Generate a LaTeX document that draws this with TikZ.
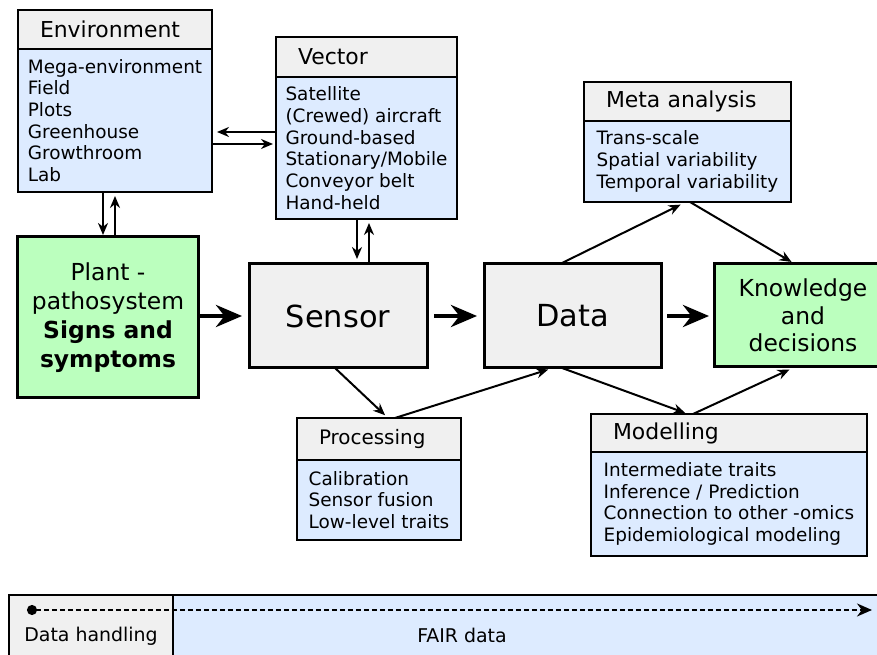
\documentclass[tikz,border=0pt]{standalone}
\usepackage{fontspec}
\setmainfont{DejaVu Sans}
\usetikzlibrary{arrows.meta, positioning}

\definecolor{headgray}{RGB}{240,240,240}
\definecolor{listblue}{RGB}{221,235,255}
\definecolor{plantgreen}{RGB}{187,255,190}

\begin{document}
\begin{tikzpicture}[
  x=1bp, y=1bp,
  headbox/.style={draw, fill=headgray, line width=2bp, outer sep=0bp, anchor=north west, inner xsep=22bp, inner ysep=0bp, align=left, font=\fontsize{22}{26}\selectfont},
  listbox/.style={draw, fill=listblue, line width=2bp, outer sep=0bp, anchor=north west, inner xsep=0bp, inner ysep=0bp, align=left, font=\fontsize{18.5}{21.8}\selectfont},
  mainbox/.style={draw, fill=headgray, line width=3bp, outer sep=0bp, minimum width=178bp, minimum height=104bp, font=\fontsize{30.5}{36}\selectfont},
  endbox/.style={draw, fill=plantgreen, line width=3bp, outer sep=0bp, align=center, font=\fontsize{23.5}{29}\selectfont},
  barbox/.style={draw, line width=2bp, outer sep=0bp, anchor=north west, minimum height=82bp, font=\fontsize{19}{22}\selectfont},
  arrow/.style={-{Stealth[length=12bp, width=10bp]}, line width=2bp},
  bigarrow/.style={-{Stealth[length=26bp, width=22bp]}, line width=4.5bp},
]
\useasboundingbox (0,0) rectangle (877,655);
\clip (0,0) rectangle (877,655);

% list boxes
\node[headbox, text width=150bp, minimum height=39bp] (env) at (18,645) {Environment};
\node[listbox, minimum width=194bp, minimum height=143bp] (envlist) at (env.south west)
  {Mega-environment\\Field\\Plots\\Greenhouse\\Growthroom\\Lab};
\node[headbox, text width=137bp, minimum height=40bp] (vec) at (276,618) {Vector};
\node[listbox, minimum width=181bp, minimum height=142bp] (veclist) at (vec.south west)
  {Satellite\\(Crewed) aircraft\\Ground-based\\Stationary/Mobile\\Conveyor belt\\Hand-held};
\node[headbox, text width=163bp, minimum height=39bp] (meta) at (584,573) {Meta analysis};
\node[listbox, minimum width=207bp, minimum height=81bp] (metalist) at (meta.south west)
  {Trans-scale\\Spatial variability\\Temporal variability};
\node[headbox, text width=120bp, minimum height=42bp, font=\fontsize{20}{24}\selectfont] (proc) at (297,237) {Processing};
\node[listbox, minimum width=164bp, minimum height=80bp] (proclist) at (proc.south west)
  {Calibration\\Sensor fusion\\Low-level traits};
\node[headbox, text width=232bp, minimum height=38bp] (model) at (591,241) {Modelling};
\node[listbox, minimum width=276bp, minimum height=104bp] (modellist) at (model.south west)
  {Intermediate traits\\Inference / Prediction\\Connection to other -omics\\Epidemiological modeling};

% main chain
\node[endbox, minimum width=180bp, minimum height=161bp] (plant) at (108,337.5)
  {Plant -\\pathosystem\\\textbf{Signs and}\\\textbf{symptoms}};
\node[mainbox] (sensor) at (338,339) {Sensor};
\node[mainbox, minimum width=177bp] (data) at (572.5,339) {Data};
\node[endbox, minimum width=178bp, minimum height=103bp, font=\fontsize{23.5}{27.5}\selectfont] (know) at (803,339.5)
  {Knowledge\\and\\decisions};

% data handling bar
\node[barbox, fill=headgray, minimum width=164bp] (handling) at (9,60) {Data handling};
\node[barbox, fill=listblue, minimum width=720bp] (fair) at (handling.north east) {};
\node[font=\fontsize{19}{22}\selectfont] (fairtext) at (462,20) {FAIR data};
\coordinate (flowstart) at (27,45);
\coordinate (flowend) at (872,45);
\draw[line width=2.2bp, dash pattern=on 5bp off 3bp, {Circle[length=10bp]}-{Stealth[length=15bp, width=13bp]}] (flowstart) -- (flowend);

% environment <-> vector
\draw[arrow, shorten >=5bp] ([yshift=-11.5bp]envlist.east -| veclist.west) -- ([yshift=-11.5bp]envlist.east);
\draw[arrow, shorten >=3bp] ([yshift=-23.5bp]envlist.east) -- ([yshift=-23.5bp]envlist.east -| veclist.west);

% environment <-> plant
\draw[arrow, shorten >=2bp] ([xshift=-12bp]envlist.south) -- ([xshift=-12bp]envlist.south |- plant.north);
\draw[arrow, shorten >=4bp] (envlist.south |- plant.north) -- (envlist.south);

% vector <-> sensor
\draw[arrow, shorten >=5bp] ([xshift=-9.5bp]veclist.south) -- ([xshift=-9.5bp]veclist.south |- sensor.north);
\draw[arrow, shorten >=4bp] ([xshift=2.5bp]veclist.south |- sensor.north) -- ([xshift=2.5bp]veclist.south);

% main flow
\draw[bigarrow, shorten <=2bp, shorten >=7bp] (plant.east |- sensor.west) -- (sensor.west);
\draw[bigarrow, shorten <=7bp, shorten >=7bp] (sensor) -- (data);
\draw[bigarrow, shorten <=6bp, shorten >=5bp] (data.east) -- (data.east -| know.west);

% side branches
\draw[arrow, shorten >=4bp] ([xshift=-3bp]sensor.south) -- ([xshift=9bp]proc.north);
\draw[arrow, shorten >=5bp] ([xshift=16bp]proc.north) -- ([xshift=-19.5bp]data.south);
\draw[arrow, shorten >=3bp] ([xshift=-10.5bp]data.south) -- ([xshift=-41bp]model.north);
\draw[arrow, shorten >=6bp] ([xshift=-36bp]model.north) -- ([xshift=-8bp]know.south);
\draw[arrow, shorten >=6bp] ([xshift=-12.5bp]data.north) -- ([xshift=-1.5bp]metalist.south);
\draw[arrow, shorten >=4bp] ([xshift=2.5bp]metalist.south) -- ([xshift=-8bp]know.north);
\end{tikzpicture}
\end{document}
